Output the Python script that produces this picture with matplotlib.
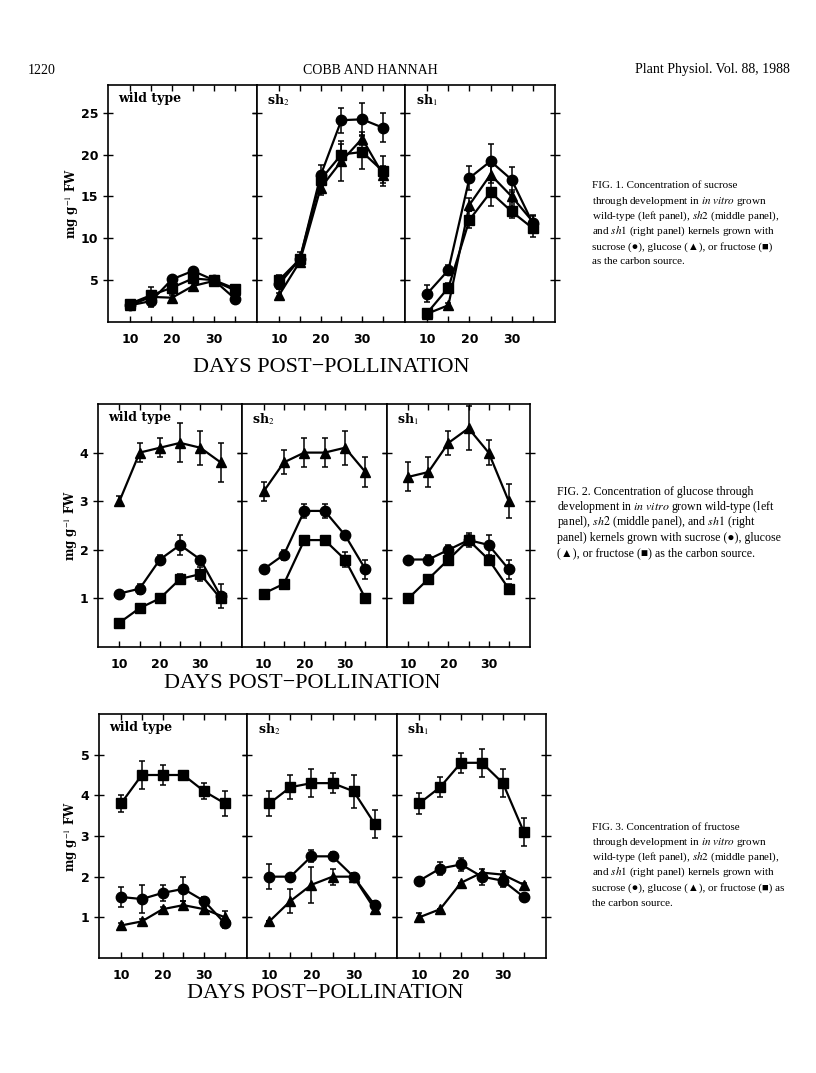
import matplotlib
matplotlib.use("Agg")
import matplotlib.pyplot as plt

plt.rcParams["mathtext.fontset"] = "stix"

W, H = 816, 1073
days = [10, 15, 20, 25, 30, 35]
panel_names = ["wild type", r"sh$_2$", r"sh$_1$"]

# Fig. 1 - sucrose (mg g-1 FW)
f1_wt_circ = [2.0, 2.5, 5.1, 6.1, 5.0, 2.8]
f1_wt_circ_err = [0.3, 0.3, 0.4, 0.4, 0.3, 0.4]
f1_wt_tri = [2.0, 3.0, 2.9, 4.3, 4.9, 3.8]
f1_wt_tri_err = [0.2, 1.2, 0.3, 0.5, 0.3, 0.3]
f1_wt_sq = [2.2, 3.2, 4.1, 5.2, 5.0, 4.0]
f1_wt_sq_err = [0.2, 0.5, 0.3, 0.3, 0.3, 0.3]
f1_sh2_circ = [4.5, 7.5, 17.5, 24.1, 24.2, 23.2]
f1_sh2_circ_err = [0.5, 0.5, 1.2, 1.5, 2.0, 1.7]
f1_sh2_tri = [3.2, 7.2, 16.0, 19.2, 21.9, 17.6]
f1_sh2_tri_err = [0.3, 0.5, 0.8, 2.4, 0.8, 1.0]
f1_sh2_sq = [5.0, 7.5, 17.0, 20.0, 20.3, 18.0]
f1_sh2_sq_err = [0.6, 0.8, 0.8, 1.2, 2.0, 1.8]
f1_sh1_circ = [3.4, 6.2, 17.2, 19.2, 17.0, 11.8]
f1_sh1_circ_err = [1.0, 0.6, 1.4, 2.0, 1.5, 0.8]
f1_sh1_tri = [1.0, 2.0, 14.0, 17.6, 15.0, 12.0]
f1_sh1_tri_err = [0.2, 0.3, 0.8, 1.0, 0.8, 0.8]
f1_sh1_sq = [1.1, 4.1, 12.2, 15.5, 13.2, 11.2]
f1_sh1_sq_err = [0.3, 0.6, 1.0, 1.7, 0.8, 1.0]

# Fig. 2 - glucose
f2_wt_circ = [1.1, 1.2, 1.8, 2.1, 1.8, 1.05]
f2_wt_circ_err = [0.05, 0.1, 0.1, 0.2, 0.05, 0.25]
f2_wt_tri = [3.0, 4.0, 4.1, 4.2, 4.1, 3.8]
f2_wt_tri_err = [0.1, 0.2, 0.2, 0.4, 0.35, 0.4]
f2_wt_sq = [0.5, 0.8, 1.0, 1.4, 1.5, 1.0]
f2_wt_sq_err = [0.0, 0.05, 0.1, 0.1, 0.15, 0.1]
f2_sh2_circ = [1.6, 1.9, 2.8, 2.8, 2.3, 1.6]
f2_sh2_circ_err = [0.05, 0.1, 0.15, 0.15, 0.05, 0.2]
f2_sh2_tri = [3.2, 3.8, 4.0, 4.0, 4.1, 3.6]
f2_sh2_tri_err = [0.2, 0.25, 0.3, 0.3, 0.35, 0.3]
f2_sh2_sq = [1.1, 1.3, 2.2, 2.2, 1.8, 1.0]
f2_sh2_sq_err = [0.0, 0.0, 0.0, 0.0, 0.15, 0.05]
f2_sh1_circ = [1.8, 1.8, 2.0, 2.2, 2.1, 1.6]
f2_sh1_circ_err = [0.0, 0.1, 0.1, 0.1, 0.2, 0.2]
f2_sh1_tri = [3.5, 3.6, 4.2, 4.5, 4.0, 3.0]
f2_sh1_tri_err = [0.3, 0.3, 0.25, 0.45, 0.25, 0.35]
f2_sh1_sq = [1.0, 1.4, 1.8, 2.2, 1.8, 1.2]
f2_sh1_sq_err = [0.0, 0.05, 0.1, 0.15, 0.05, 0.1]

# Fig. 3 - fructose
f3_wt_circ = [1.5, 1.45, 1.6, 1.7, 1.4, 0.85]
f3_wt_circ_err = [0.25, 0.35, 0.2, 0.3, 0.1, 0.1]
f3_wt_tri = [0.8, 0.9, 1.2, 1.3, 1.2, 1.0]
f3_wt_tri_err = [0.05, 0.05, 0.05, 0.1, 0.05, 0.15]
f3_wt_sq = [3.8, 4.5, 4.5, 4.5, 4.1, 3.8]
f3_wt_sq_err = [0.2, 0.35, 0.25, 0.1, 0.2, 0.3]
f3_sh2_circ = [2.0, 2.0, 2.5, 2.5, 2.0, 1.3]
f3_sh2_circ_err = [0.3, 0.0, 0.15, 0.1, 0.1, 0.1]
f3_sh2_tri = [0.9, 1.4, 1.8, 2.0, 2.0, 1.2]
f3_sh2_tri_err = [0.0, 0.3, 0.45, 0.2, 0.1, 0.1]
f3_sh2_sq = [3.8, 4.2, 4.3, 4.3, 4.1, 3.3]
f3_sh2_sq_err = [0.3, 0.3, 0.35, 0.25, 0.4, 0.35]
f3_sh1_circ = [1.9, 2.2, 2.3, 2.0, 1.9, 1.5]
f3_sh1_circ_err = [0.0, 0.15, 0.15, 0.2, 0.15, 0.0]
f3_sh1_tri = [1.0, 1.2, 1.85, 2.1, 2.05, 1.8]
f3_sh1_tri_err = [0.1, 0.0, 0.0, 0.0, 0.1, 0.05]
f3_sh1_sq = [3.8, 4.2, 4.8, 4.8, 4.3, 3.1]
f3_sh1_sq_err = [0.25, 0.25, 0.25, 0.35, 0.35, 0.35]

fig1_yticks = [5, 10, 15, 20, 25]
fig2_yticks = [1, 2, 3, 4]
fig3_yticks = [1, 2, 3, 4, 5]

fig = plt.figure(figsize=(W / 100, H / 100), dpi=100)


def rect(left, top, right, bottom):
    return [left / W, 1 - bottom / H, (right - left) / W, (bottom - top) / H]


def draw_figure(edges, top, bottom, ylim, yticks, panels, ylab_x, xlab_x, xlab_y):
    for i, (series, name) in enumerate(zip(panels, panel_names)):
        ax = fig.add_axes(rect(edges[i], top, edges[i + 1], bottom))
        for vals, errs, mk in series:
            ax.errorbar(days, vals, yerr=errs, color="black", marker=mk,
                        markersize=7.5 if mk != "^" else 7, lw=1.6,
                        elinewidth=1.1, capsize=2.2, capthick=1.1)
        ax.set_xlim(4.7, 40.3)
        ax.set_ylim(*ylim)
        ax.set_xticks(days)
        ax.set_xticklabels(["10", "", "20", "", "30", ""])
        ax.set_yticks(yticks)
        ax.tick_params(axis="x", direction="in", top=True, length=4, width=1,
                       pad=8, labelsize=9)
        ax.tick_params(axis="y", direction="inout", right=True, length=7,
                       width=1, labelsize=9)
        for lab in ax.get_xticklabels() + ax.get_yticklabels():
            lab.set_fontweight("bold")
        if i > 0:
            ax.set_yticklabels([])
        for s in ax.spines.values():
            s.set_linewidth(1.2)
        ax.text(0.07, 0.97, name, transform=ax.transAxes, ha="left", va="top",
                fontsize=9, fontweight="bold", family="DejaVu Serif")
    ymid = (top + bottom) / 2
    fig.text(ylab_x / W, 1 - ymid / H, r"mg g$^{-1}$ FW", rotation=90,
             ha="center", va="center", fontsize=8.5, fontweight="bold",
             family="DejaVu Serif")
    fig.text(xlab_x / W, 1 - xlab_y / H, "DAYS POST\u2212POLLINATION",
             ha="center", va="center", fontsize=16, family="Liberation Serif")


fig1_panels = [
    [(f1_wt_circ, f1_wt_circ_err, "o"), (f1_wt_tri, f1_wt_tri_err, "^"),
     (f1_wt_sq, f1_wt_sq_err, "s")],
    [(f1_sh2_circ, f1_sh2_circ_err, "o"), (f1_sh2_tri, f1_sh2_tri_err, "^"),
     (f1_sh2_sq, f1_sh2_sq_err, "s")],
    [(f1_sh1_circ, f1_sh1_circ_err, "o"), (f1_sh1_tri, f1_sh1_tri_err, "^"),
     (f1_sh1_sq, f1_sh1_sq_err, "s")],
]
fig2_panels = [
    [(f2_wt_circ, f2_wt_circ_err, "o"), (f2_wt_tri, f2_wt_tri_err, "^"),
     (f2_wt_sq, f2_wt_sq_err, "s")],
    [(f2_sh2_circ, f2_sh2_circ_err, "o"), (f2_sh2_tri, f2_sh2_tri_err, "^"),
     (f2_sh2_sq, f2_sh2_sq_err, "s")],
    [(f2_sh1_circ, f2_sh1_circ_err, "o"), (f2_sh1_tri, f2_sh1_tri_err, "^"),
     (f2_sh1_sq, f2_sh1_sq_err, "s")],
]
fig3_panels = [
    [(f3_wt_circ, f3_wt_circ_err, "o"), (f3_wt_tri, f3_wt_tri_err, "^"),
     (f3_wt_sq, f3_wt_sq_err, "s")],
    [(f3_sh2_circ, f3_sh2_circ_err, "o"), (f3_sh2_tri, f3_sh2_tri_err, "^"),
     (f3_sh2_sq, f3_sh2_sq_err, "s")],
    [(f3_sh1_circ, f3_sh1_circ_err, "o"), (f3_sh1_tri, f3_sh1_tri_err, "^"),
     (f3_sh1_sq, f3_sh1_sq_err, "s")],
]

draw_figure([108, 257, 405, 555], 85, 322, (0, 28.3), fig1_yticks,
            fig1_panels, 72, 331, 368)
draw_figure([98, 242, 387, 530], 404, 647, (0, 5.0), fig2_yticks,
            fig2_panels, 71, 302, 684)
draw_figure([99, 247, 397, 546], 714, 958, (0, 6.0), fig3_yticks,
            fig3_panels, 71, 325, 993)

# page header
fig.text(28 / W, 1 - 70 / H, "1220", fontsize=10, family="Liberation Serif",
         va="center")
fig.text(370 / W, 1 - 70 / H, "COBB AND HANNAH", fontsize=10,
         family="Liberation Serif", va="center", ha="center")
fig.text(790 / W, 1 - 70 / H, "Plant Physiol. Vol. 88, 1988", fontsize=10,
         family="Liberation Serif", va="center", ha="right")

serif = ["Liberation Serif", "DejaVu Serif"]
cap1 = [
    "FIG. 1. Concentration of sucrose",
    r"through development in $\mathit{in\ vitro}$ grown",
    r"wild-type (left panel), $\mathit{sh2}$ (middle panel),",
    r"and $\mathit{sh1}$ (right panel) kernels grown with",
    "sucrose (\u25cf), glucose (\u25b2), or fructose (\u25a0)",
    "as the carbon source.",
]
cap2 = [
    "FIG. 2. Concentration of glucose through",
    r"development in $\mathit{in\ vitro}$ grown wild-type (left",
    r"panel), $\mathit{sh2}$ (middle panel), and $\mathit{sh1}$ (right",
    "panel) kernels grown with sucrose (\u25cf), glucose",
    "(\u25b2), or fructose (\u25a0) as the carbon source.",
]
cap3 = [
    "FIG. 3. Concentration of fructose",
    r"through development in $\mathit{in\ vitro}$ grown",
    r"wild-type (left panel), $\mathit{sh2}$ (middle panel),",
    r"and $\mathit{sh1}$ (right panel) kernels grown with",
    "sucrose (\u25cf), glucose (\u25b2), or fructose (\u25a0) as",
    "the carbon source.",
]
for lines, x0, y0, fs in [(cap1, 592, 186, 8), (cap2, 557, 492, 8.6),
                          (cap3, 592, 827, 8)]:
    for k, line in enumerate(lines):
        fig.text(x0 / W, 1 - (y0 + k * 15.2) / H, line, fontsize=fs,
                 family=serif, va="center", ha="left")

fig.savefig("out.png", dpi=100)
